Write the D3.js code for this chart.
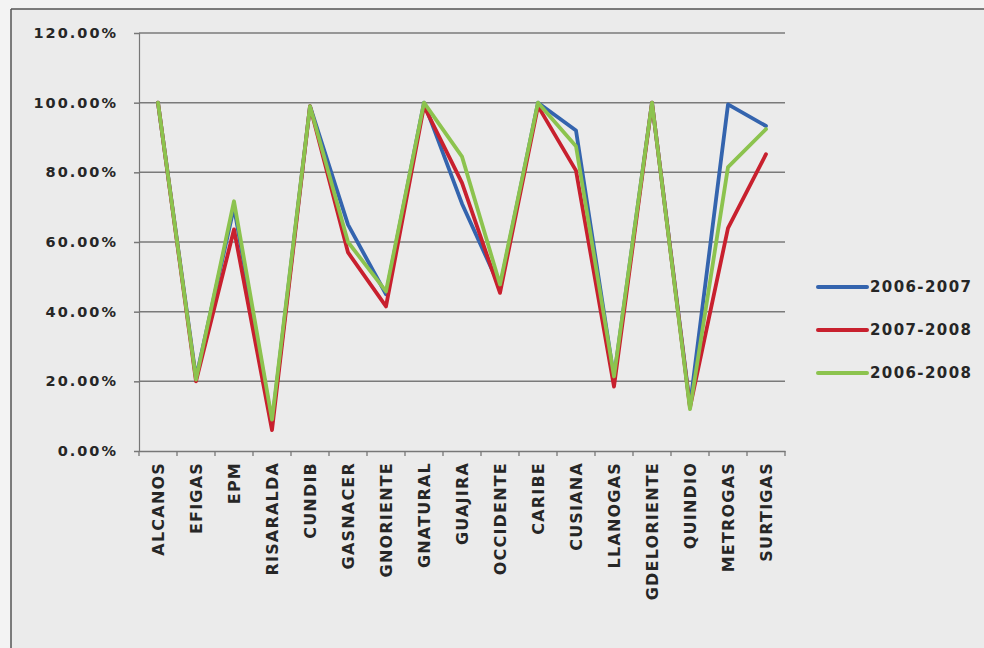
<!DOCTYPE html>
<html>
<head>
<meta charset="utf-8">
<script src="https://cdn.jsdelivr.net/npm/d3@7"></script>
<style>
  html, body { margin: 0; padding: 0; background: #f3f3f3; }
  svg { display: block; }
  text { font-family: "DejaVu Sans", sans-serif; fill: #262626; }
</style>
</head>
<body>
<svg id="chart" width="984" height="648"></svg>
<script>
// Companies (x categories)
const categories = ["ALCANOS", "EFIGAS", "EPM", "RISARALDA", "CUNDIB", "GASNACER",
  "GNORIENTE", "GNATURAL", "GUAJIRA", "OCCIDENTE", "CARIBE", "CUSIANA",
  "LLANOGAS", "GDELORIENTE", "QUINDIO", "METROGAS", "SURTIGAS"];

// Series names
const seriesNames = ["2006-2007", "2007-2008", "2006-2008"];

// Values per period (fraction, 1 = 100%)
const values0607 = [1.00, 0.21, 0.70, 0.08, 0.99, 0.65, 0.45, 1.00, 0.71, 0.47, 1.00, 0.92, 0.21, 1.00, 0.13, 0.995, 0.933];
const values0708 = [1.00, 0.20, 0.636, 0.06, 0.99, 0.57, 0.415, 0.99, 0.77, 0.454, 0.99, 0.805, 0.185, 1.00, 0.125, 0.64, 0.852];
const values0608 = [1.00, 0.205, 0.717, 0.09, 0.99, 0.60, 0.458, 1.00, 0.845, 0.478, 1.00, 0.875, 0.214, 1.00, 0.12, 0.815, 0.924];

// Y axis ticks
const yTicks = [0, 0.2, 0.4, 0.6, 0.8, 1.0, 1.2];

const colors = ["#3464ae", "#c8202e", "#8cc34e"];
const seriesValues = [values0607, values0708, values0608];

const svg = d3.select("#chart");

// Chart frame
svg.append("rect").attr("x", 11).attr("y", 9).attr("width", 973).attr("height", 639)
  .attr("fill", "#ebebeb");
svg.append("line").attr("x1", 11).attr("x2", 984).attr("y1", 9).attr("y2", 9)
  .attr("stroke", "#555").attr("stroke-width", 1.5);
svg.append("line").attr("x1", 11).attr("x2", 11).attr("y1", 9).attr("y2", 648)
  .attr("stroke", "#555").attr("stroke-width", 1.5);

const plot = { left: 139, right: 785, top: 33, bottom: 451 };

const x = d3.scaleBand().domain(categories).range([plot.left, plot.right]).paddingInner(0).paddingOuter(0);
const y = d3.scaleLinear().domain([0, 1.2]).range([plot.bottom, plot.top]);
const cx = d => x(d) + x.bandwidth() / 2;

// Horizontal gridlines
svg.append("g").selectAll("line").data(yTicks.filter(t => t > 0)).join("line")
  .attr("x1", plot.left).attr("x2", plot.right)
  .attr("y1", d => y(d)).attr("y2", d => y(d))
  .attr("stroke", "#7a7a7a").attr("stroke-width", 1.5);

// Y axis
const yAxis = svg.append("g").attr("transform", `translate(${plot.left},0)`)
  .call(d3.axisLeft(y).tickValues(yTicks).tickFormat(d3.format(".2%")).tickSize(5).tickPadding(16));
yAxis.select(".domain").attr("stroke", "#777").attr("stroke-width", 1.2);
yAxis.selectAll(".tick line").attr("stroke", "#777").attr("stroke-width", 1.5);
yAxis.selectAll("text").attr("font-size", 14.5).attr("font-weight", "bold")
  .attr("font-family", "DejaVu Sans, sans-serif").attr("fill", "#333")
  .style("letter-spacing", "2px");

// X axis with labels at category centres
const xAxis = svg.append("g").attr("transform", `translate(0,${plot.bottom})`)
  .call(d3.axisBottom(x).tickSize(0).tickPadding(0));
xAxis.select(".domain").attr("stroke", "#777").attr("stroke-width", 1.5);
xAxis.selectAll("text")
  .attr("transform", "rotate(-90)")
  .attr("x", -11).attr("y", 0).attr("dy", "0.36em")
  .style("text-anchor", "end")
  .attr("font-size", 16).attr("font-weight", "bold")
  .attr("font-family", "DejaVu Sans, sans-serif").attr("fill", "#333")
  .style("letter-spacing", "1.2px");

// Tick marks at category boundaries
const boundaries = categories.map(c => x(c)).concat([x(categories[categories.length - 1]) + x.bandwidth()]);
svg.append("g").selectAll("line").data(boundaries).join("line")
  .attr("x1", d => d).attr("x2", d => d)
  .attr("y1", plot.bottom).attr("y2", plot.bottom + 5)
  .attr("stroke", "#777").attr("stroke-width", 1.3);

// Series lines
const line = d3.line().x((d, i) => cx(categories[i])).y(d => y(d));
svg.append("g").selectAll("path").data(seriesValues).join("path")
  .attr("d", d => line(d))
  .attr("fill", "none")
  .attr("stroke", (d, i) => colors[i])
  .attr("stroke-width", 3.8)
  .attr("stroke-linejoin", "round")
  .attr("stroke-linecap", "round");

// Legend
const legend = svg.append("g");
const legendY = [287, 330, 373];
seriesNames.forEach((name, i) => {
  legend.append("line")
    .attr("x1", 818).attr("x2", 867)
    .attr("y1", legendY[i]).attr("y2", legendY[i])
    .attr("stroke", colors[i]).attr("stroke-width", 4).attr("stroke-linecap", "round");
  legend.append("text")
    .attr("x", 870).attr("y", legendY[i]).attr("dy", "0.36em")
    .attr("font-size", 15).attr("font-weight", "bold")
    .attr("fill", "#333")
    .style("letter-spacing", "1.4px")
    .text(name);
});
</script>
</body>
</html>
